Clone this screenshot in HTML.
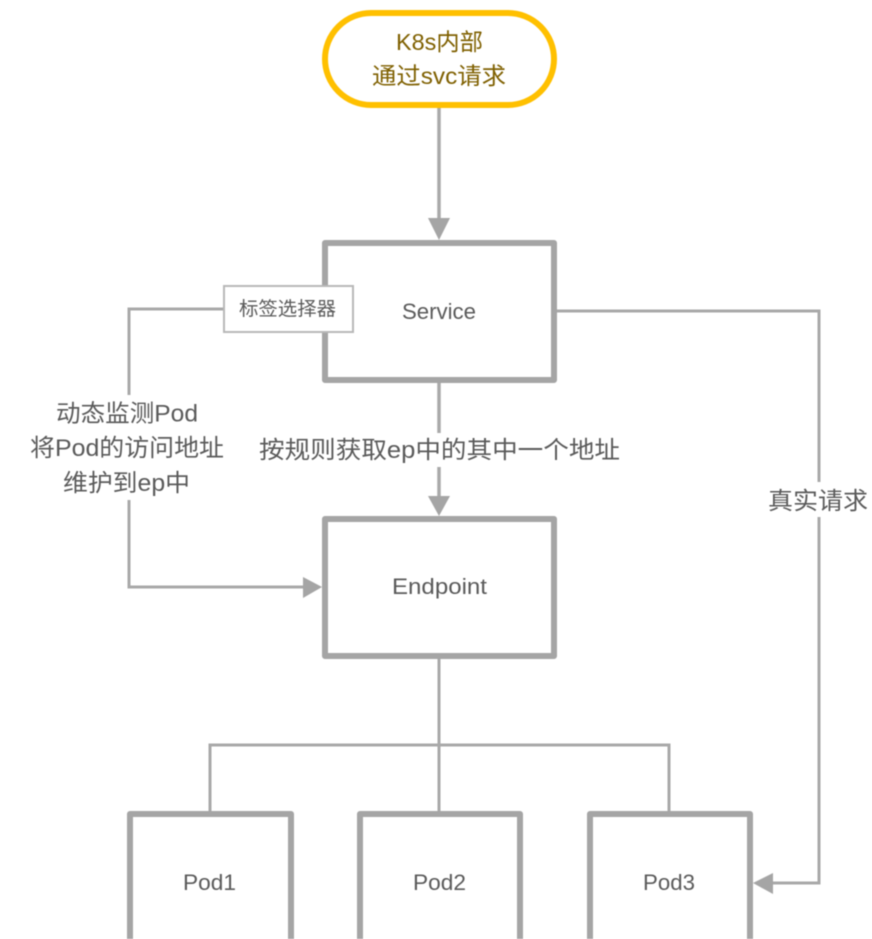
<!DOCTYPE html>
<html>
<head>
<meta charset="utf-8">
<style>
html,body{margin:0;padding:0;background:#fff;width:872px;height:939px;overflow:hidden}
svg{display:block;filter:blur(0.4px)}
text{font-family:"Liberation Sans","Noto Sans CJK SC",sans-serif;fill:#5a5a5a}
</style>
</head>
<body>
<svg width="872" height="939" viewBox="0 0 872 939" xmlns="http://www.w3.org/2000/svg">
<rect width="872" height="939" fill="#fff"/>
<g fill="none" stroke="#a9a9a9" stroke-width="3">
<path d="M439 106V222" stroke-width="3.5"/>
<path d="M439 380V433M439 467V498" stroke-width="3.5"/>
<path d="M224 309H129V395M129 500V587H305"/>
<path d="M555 311H819V482M819 517V883H772"/>
<path d="M439 657V812" />
<path d="M210 812V745H669V812"/>
</g>
<g fill="#a5a5a5">
<polygon points="439,240 428,218 450,218"/>
<polygon points="439,516 428,496 450,496"/>
<polygon points="322,587 303,577 303,598"/>
<polygon points="753,883 773,873 773,894"/>
</g>
<rect x="325" y="13" width="229" height="92" rx="46" ry="46" fill="#fff" stroke="#ffc000" stroke-width="6"/>
<g fill="#fff" stroke="#a5a5a5" stroke-width="6" stroke-linejoin="round">
<rect x="325" y="243" width="229" height="137"/>
<rect x="325" y="519" width="229" height="137"/>
<rect x="130" y="814" width="161" height="140"/>
<rect x="360" y="814" width="160" height="140"/>
<rect x="590" y="814" width="160" height="140"/>
</g>
<rect x="224" y="286" width="129" height="46" fill="#fff" stroke="#b8b8b8" stroke-width="2"/>
<g font-size="23.5">
<text x="396" y="50" textLength="87" lengthAdjust="spacingAndGlyphs" style="fill:#7f6000">K8s内部</text>
<text x="372" y="84" textLength="134" lengthAdjust="spacingAndGlyphs" style="fill:#7f6000">通过svc请求</text>
</g>
<text x="239" y="315" font-size="19" textLength="97" lengthAdjust="spacingAndGlyphs">标签选择器</text>
<g font-size="22.5">
<text x="402" y="319" textLength="74" lengthAdjust="spacingAndGlyphs">Service</text>
<text x="392" y="594" textLength="95" lengthAdjust="spacingAndGlyphs">Endpoint</text>
<text x="183" y="890" textLength="53" lengthAdjust="spacingAndGlyphs">Pod1</text>
<text x="413" y="890" textLength="53" lengthAdjust="spacingAndGlyphs">Pod2</text>
<text x="643" y="890" textLength="52" lengthAdjust="spacingAndGlyphs">Pod3</text>
</g>
<g font-size="24">
<text x="56" y="421.5" textLength="142" lengthAdjust="spacingAndGlyphs">动态监测Pod</text>
<text x="30" y="456" textLength="194" lengthAdjust="spacingAndGlyphs">将Pod的访问地址</text>
<text x="63" y="491" textLength="127" lengthAdjust="spacingAndGlyphs">维护到ep中</text>
<text x="259" y="458" textLength="361" lengthAdjust="spacingAndGlyphs">按规则获取ep中的其中一个地址</text>
<text x="768" y="509" textLength="100" lengthAdjust="spacingAndGlyphs">真实请求</text>
</g>
</svg>
</body>
</html>
